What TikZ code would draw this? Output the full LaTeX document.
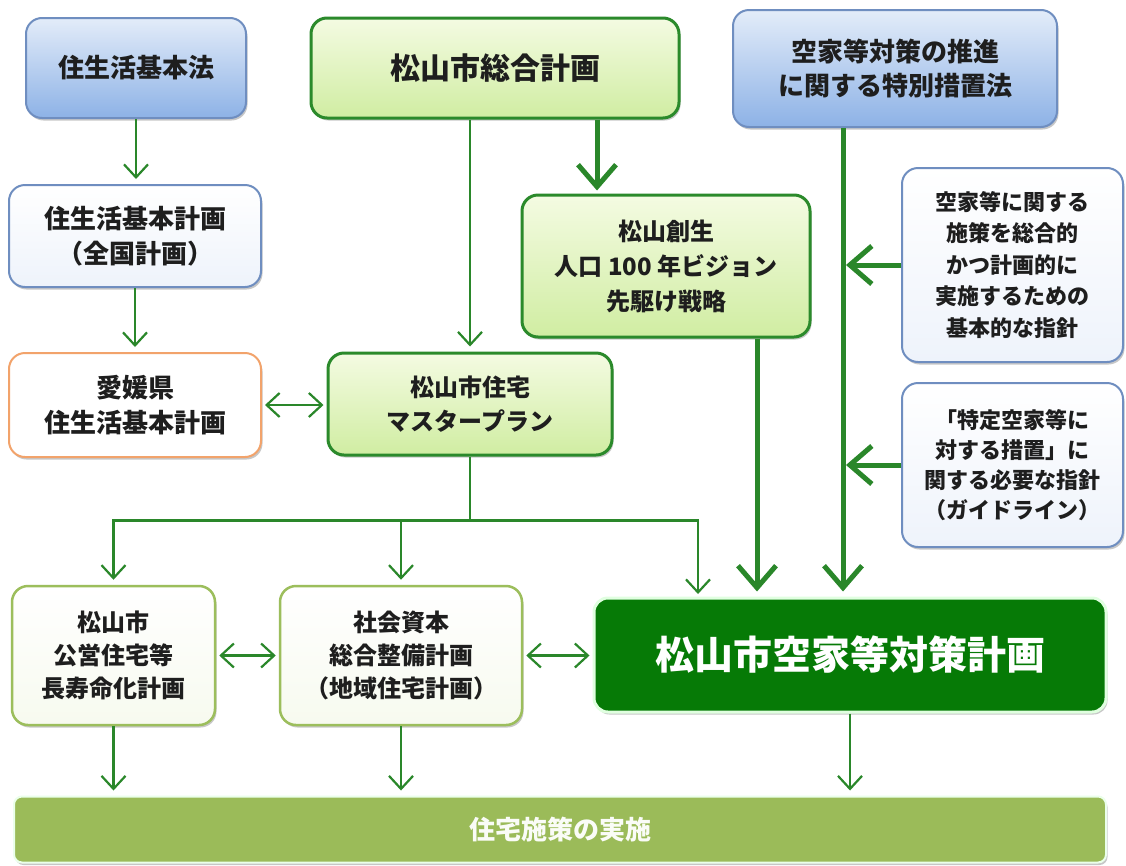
\documentclass[tikz,border=0pt]{standalone}
\usepackage{fontspec}
\setmainfont{Noto Sans CJK JP}
\usetikzlibrary{arrows.meta,shadows}
\definecolor{blueT}{HTML}{E3ECF9}
\definecolor{blueB}{HTML}{8DB2E6}
\definecolor{blueBd}{HTML}{6F8EC0}
\definecolor{paleB}{HTML}{EEF3FB}
\definecolor{orangeBd}{HTML}{F2A36B}
\definecolor{greenT}{HTML}{F4FBE2}
\definecolor{greenB}{HTML}{D0EDA2}
\definecolor{greenBd}{HTML}{2B8A2B}
\definecolor{oliveBd}{HTML}{9CBE5C}
\definecolor{paleG}{HTML}{F7FAEF}
\definecolor{darkG}{HTML}{067A06}
\definecolor{barG}{HTML}{9BBB59}
\definecolor{arrowG}{HTML}{2A872A}
\definecolor{txt}{HTML}{1E1E1E}
\tikzset{
  shad/.style={drop shadow={shadow xshift=1.5pt,shadow yshift=-2.5pt,opacity=0.22,fill=black}},
  box/.style={rounded corners=16pt, align=center, inner sep=0pt, text=txt, font=\bfseries, shad},
  bluebox/.style={box, draw=blueBd, line width=2pt, top color=blueT, bottom color=blueB},
  palebox/.style={box, draw=blueBd, line width=2pt, top color=white, bottom color=paleB},
  orangebox/.style={box, draw=orangeBd, line width=2pt, fill=white},
  greenbox/.style={box, draw=greenBd, line width=3pt, top color=greenT, bottom color=greenB},
  olivebox/.style={box, draw=oliveBd, line width=2.5pt, top color=white, bottom color=paleG},
  thinline/.style={draw=arrowG, line width=2.2pt},
  thinarr/.style={thinline, -{Straight Barb[length=13pt,width=24pt]}, shorten >=5pt},
  dblarr/.style={thinline, {Straight Barb[length=13pt,width=24pt]}-{Straight Barb[length=13pt,width=24pt]}, shorten >=3pt, shorten <=3pt},
  thickarr/.style={draw=arrowG, line width=5pt, -{Straight Barb[length=22pt,width=38pt]}, shorten >=5pt},
}
\begin{document}
\begin{tikzpicture}[x=1pt,y=-1pt]
\useasboundingbox (0,0) rectangle (1126,865);
\fill[white] (0,0) rectangle (1126,865);

% nodes
\node[bluebox, minimum width=220pt, minimum height=100pt, font=\bfseries\fontsize{26}{35}\selectfont] (A) at (136,68) {住生活基本法};
\node[palebox, minimum width=252pt, minimum height=102pt, font=\bfseries\fontsize{26}{35}\selectfont] (B) at (135,236) {住生活基本計画\\（全国計画）};
\node[orangebox, minimum width=252pt, minimum height=104pt, font=\bfseries\fontsize{26}{35}\selectfont] (C) at (135,405) {愛媛県\\住生活基本計画};
\node[greenbox, minimum width=368pt, minimum height=100pt, font=\bfseries\fontsize{30}{36}\selectfont] (D) at (495,68) {松山市総合計画};
\node[greenbox, minimum width=288pt, minimum height=142pt, font=\bfseries\fontsize{24}{35}\selectfont] (E) at (666,266) {松山創生\\人口 100 年ビジョン\\先駆け戦略};
\node[greenbox, minimum width=284pt, minimum height=102pt, font=\bfseries\fontsize{24}{34}\selectfont] (F) at (470,404) {松山市住宅\\マスタープラン};
\node[bluebox, minimum width=324pt, minimum height=117pt, font=\bfseries\fontsize{26}{34}\selectfont] (G) at (895,68.5) {空家等対策の推進\\に関する特別措置法};
\node[palebox, minimum width=221pt, minimum height=194pt, font=\bfseries\fontsize{22}{31.5}\selectfont] (H) at (1012.5,265) {空家等に関する\\施策を総合的\\かつ計画的に\\実施するための\\基本的な指針};
\node[palebox, minimum width=221pt, minimum height=164pt, font=\bfseries\fontsize{22}{30}\selectfont] (I) at (1012.5,465) {「特定空家等に\\対する措置」に\\関する必要な指針\\（ガイドライン）};
\node[olivebox, minimum width=203pt, minimum height=139pt, font=\bfseries\fontsize{24}{33}\selectfont] (J) at (113.5,655.5) {松山市\\公営住宅等\\長寿命化計画};
\node[olivebox, minimum width=242pt, minimum height=139pt, font=\bfseries\fontsize{24}{33}\selectfont] (K) at (401,655.5) {社会資本\\総合整備計画\\（地域住宅計画）};
\node[box, rounded corners=14pt, draw=green!12!white, line width=3pt, fill=darkG, text=white, minimum width=512pt, minimum height=114pt, font=\bfseries\fontsize{39}{44}\selectfont] (L) at (850,655) {松山市空家等対策計画};
\node[box, rounded corners=8pt, draw=green!8!white, line width=2pt, fill=barG, text=white!95!barG, minimum width=1092pt, minimum height=66pt, font=\bfseries\fontsize{26}{30}\selectfont] (M) at (560,829.5) {住宅施策の実施};

% helper coordinates
\path (D.south) ++(102,0) coordinate (Dout);
\path (E.south) ++(91,0) coordinate (Eout);
\path (G.south) ++(-52,0) coordinate (Gout);
\path (F.south) ++(0,64) coordinate (br);
\coordinate (Lin) at (698,599);

% connectors
\draw[thinarr] (A.south) -- (A.south |- B.north);
\draw[thinarr] (B.south) -- (B.south |- C.north);
\draw[dblarr] (C.east) -- (C.east -| F.west);
\draw[thinarr] (F.north |- D.south) -- (F.north);
\draw[thickarr, shorten >=3pt] (Dout) -- (Dout |- E.north);
\draw[thickarr] (Eout) -- (Eout |- L.north);
\draw[thickarr] (Gout) -- (Gout |- L.north);
\draw[thickarr, shorten >=3pt] (H.west) -- (H.west -| Gout);
\draw[thickarr, shorten >=3pt] (I.west) -- (I.west -| Gout);
\draw[thinline] (F.south) -- (br);
\draw[thinarr] (br) -| (J.north);
\draw[thinarr] (br) -| (K.north);
\draw[thinarr] (br) -| (Lin);
\draw[dblarr] (J.east) -- (J.east -| K.west);
\draw[dblarr] (K.east) -- (K.east -| L.west);
\draw[thinarr] (J.south) -- (J.south |- M.north);
\draw[thinarr] (K.south) -- (K.south |- M.north);
\draw[thinarr] (L.south) -- (L.south |- M.north);
\end{tikzpicture}
\end{document}
